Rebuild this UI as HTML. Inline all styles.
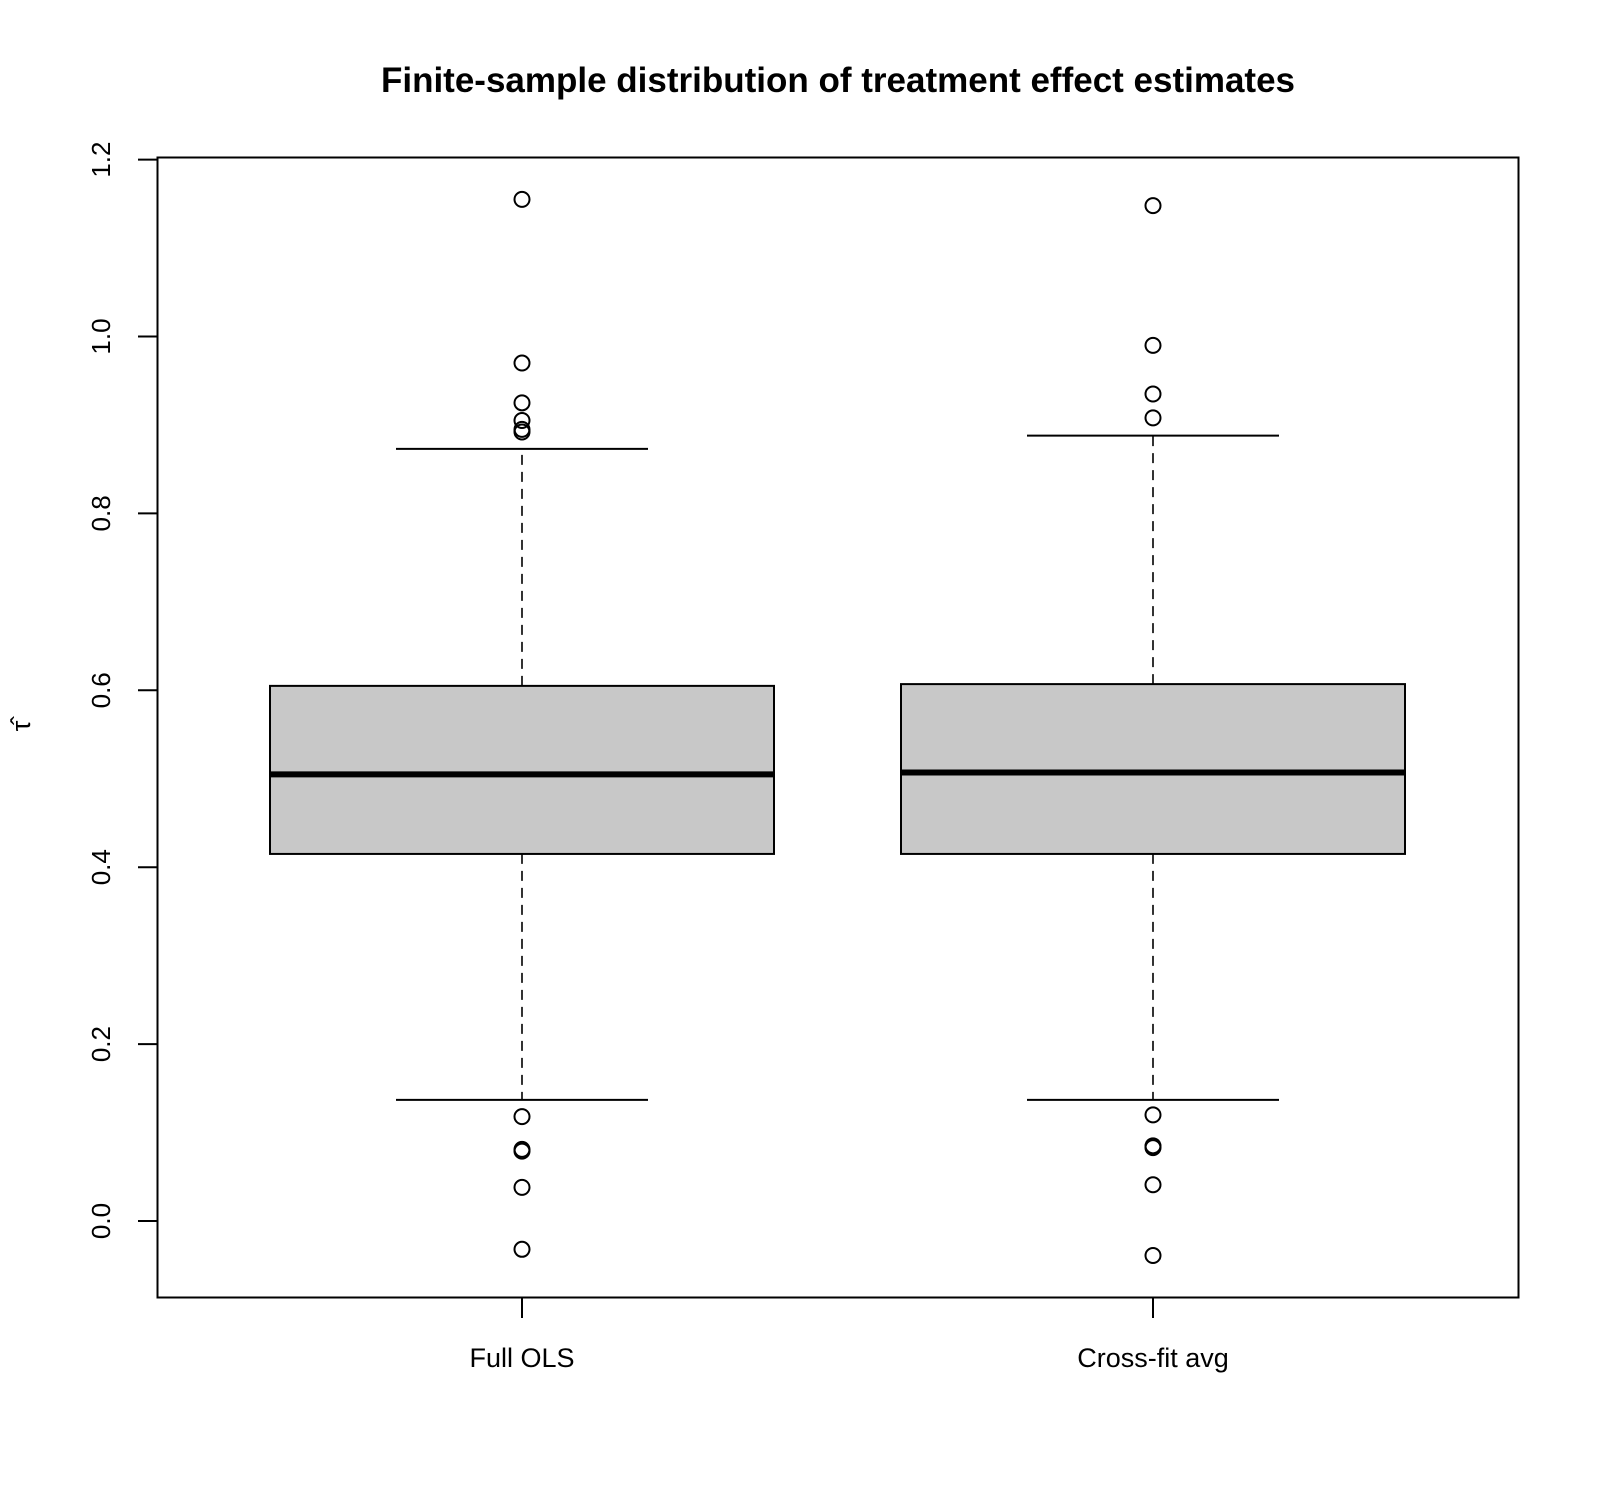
<!DOCTYPE html>
<html><head><meta charset="utf-8"><style>
html,body{margin:0;padding:0;background:#fff}
svg{display:block}
text{font-family:"Liberation Sans",Arial,sans-serif;fill:#000}
</style></head><body>
<svg id="chart" width="1600" height="1494" viewBox="0 0 1600 1494" xmlns="http://www.w3.org/2000/svg">
<text x="838" y="92" font-size="35" font-weight="bold" text-anchor="middle">Finite-sample distribution of treatment effect estimates</text>
<rect x="157.5" y="157.5" width="1361" height="1140" fill="none" stroke="#000" stroke-width="2"/>
<g id="yaxis"></g>
<g id="xaxis"></g>
<g id="boxes"></g>
<text transform="translate(30,726) rotate(-90)" font-size="27" text-anchor="middle">τ̂</text>
</svg>
<script>
const categories = ["Full OLS", "Cross-fit avg"];
const q1 = [0.415, 0.415];
const medians = [0.505, 0.507];
const q3 = [0.605, 0.607];
const whiskerLow = [0.137, 0.137];
const whiskerHigh = [0.873, 0.888];
const outliersOLS = [1.155, 0.97, 0.925, 0.905, 0.895, 0.892, 0.118, 0.081, 0.079, 0.038, -0.032];
const outliersCF = [1.148, 0.99, 0.935, 0.908, 0.12, 0.085, 0.083, 0.041, -0.039];
const yTicks = [0.0, 0.2, 0.4, 0.6, 0.8, 1.0, 1.2];
const yTickLabels = ["0.0", "0.2", "0.4", "0.6", "0.8", "1.0", "1.2"];

const NS = "http://www.w3.org/2000/svg";
const y = v => 1221 - v * 884.5;
const x = i => 522 + i * 631;
const boxHalf = 252, capHalf = 126;
function mk(tag, attrs, parent){const e=document.createElementNS(NS,tag);for(const k in attrs)e.setAttribute(k,attrs[k]);parent.appendChild(e);return e;}

const ya = document.getElementById("yaxis");
mk("line",{x1:157.5,x2:157.5,y1:y(0),y2:y(1.2),stroke:"#000","stroke-width":2},ya);
yTicks.forEach((v,i)=>{
  const t = mk("line",{x1:138,x2:157.5,y1:y(v),y2:y(v),stroke:"#000","stroke-width":2},ya);
  
  
  const l = mk("text",{transform:`translate(110,${y(v)}) rotate(-90)`,"font-size":26,"text-anchor":"middle"},ya);
  l.textContent = yTickLabels[i];
  
  
});
const xa = document.getElementById("xaxis");
categories.forEach((c,i)=>{
  const t = mk("line",{x1:x(i),x2:x(i),y1:1297,y2:1318,stroke:"#000","stroke-width":2},xa);
  
  
  const l = mk("text",{x:x(i),y:1367,"font-size":27,"text-anchor":"middle"},xa);
  l.textContent = c;
  
  
});
const bg = document.getElementById("boxes");
const outs = [outliersOLS, outliersCF];
categories.forEach((c,i)=>{
  const cx = x(i);
  const g = mk("g",{},bg);
  
  
  mk("line",{x1:cx,x2:cx,y1:y(q3[i]),y2:y(whiskerHigh[i]),stroke:"#000","stroke-width":1.6,"stroke-dasharray":"10,7"},g);
  mk("line",{x1:cx,x2:cx,y1:y(q1[i]),y2:y(whiskerLow[i]),stroke:"#000","stroke-width":1.6,"stroke-dasharray":"10,7"},g);
  mk("line",{x1:cx-capHalf,x2:cx+capHalf,y1:y(whiskerHigh[i]),y2:y(whiskerHigh[i]),stroke:"#000","stroke-width":2},g);
  mk("line",{x1:cx-capHalf,x2:cx+capHalf,y1:y(whiskerLow[i]),y2:y(whiskerLow[i]),stroke:"#000","stroke-width":2},g);
  mk("rect",{x:cx-boxHalf,y:y(q3[i]),width:2*boxHalf,height:y(q1[i])-y(q3[i]),fill:"#c8c8c8",stroke:"#000","stroke-width":2},g);
  mk("line",{x1:cx-boxHalf,x2:cx+boxHalf,y1:y(medians[i]),y2:y(medians[i]),stroke:"#000","stroke-width":6},g);
  outs[i].forEach(v=>{
    const p = mk("circle",{cx:cx,cy:y(v),r:7.5,fill:"none",stroke:"#000","stroke-width":2},g);
    
    
  });
});
</script>
</body></html>
